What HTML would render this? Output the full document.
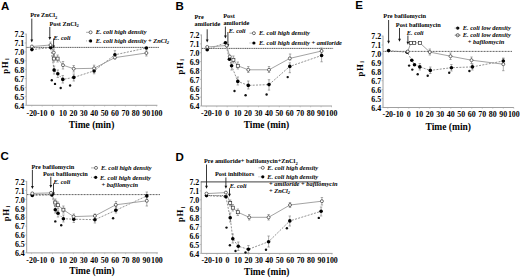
<!DOCTYPE html>
<html><head><meta charset="utf-8"><style>
html,body{margin:0;padding:0;background:#fff;width:520px;height:278px;overflow:hidden}
svg{display:block}
</style></head><body>
<svg width="520" height="278" viewBox="0 0 520 278">
<rect width="520" height="278" fill="#fff"/>
<text x="0.90" y="9.80" font-size="11.5" text-anchor="start" font-weight="bold" font-style="normal" font-family='"Liberation Sans", sans-serif' fill="#000" >A</text>
<line x1="26.20" y1="33.60" x2="26.20" y2="105.30" stroke="#a0a0a0" stroke-width="1.0" />
<line x1="24.70" y1="34.10" x2="26.20" y2="34.10" stroke="#a0a0a0" stroke-width="0.6" />
<text x="24.30" y="37.40" font-size="7.9" text-anchor="end" font-weight="bold" font-style="normal" font-family='"Liberation Serif", serif' fill="#000" >7.2</text>
<line x1="24.70" y1="43.00" x2="26.20" y2="43.00" stroke="#a0a0a0" stroke-width="0.6" />
<text x="24.30" y="46.30" font-size="7.9" text-anchor="end" font-weight="bold" font-style="normal" font-family='"Liberation Serif", serif' fill="#000" >7.1</text>
<line x1="24.70" y1="51.90" x2="26.20" y2="51.90" stroke="#a0a0a0" stroke-width="0.6" />
<text x="24.30" y="55.20" font-size="7.9" text-anchor="end" font-weight="bold" font-style="normal" font-family='"Liberation Serif", serif' fill="#000" >7.0</text>
<line x1="24.70" y1="60.80" x2="26.20" y2="60.80" stroke="#a0a0a0" stroke-width="0.6" />
<text x="24.30" y="64.10" font-size="7.9" text-anchor="end" font-weight="bold" font-style="normal" font-family='"Liberation Serif", serif' fill="#000" >6.9</text>
<line x1="24.70" y1="69.70" x2="26.20" y2="69.70" stroke="#a0a0a0" stroke-width="0.6" />
<text x="24.30" y="73.00" font-size="7.9" text-anchor="end" font-weight="bold" font-style="normal" font-family='"Liberation Serif", serif' fill="#000" >6.8</text>
<line x1="24.70" y1="78.60" x2="26.20" y2="78.60" stroke="#a0a0a0" stroke-width="0.6" />
<text x="24.30" y="81.90" font-size="7.9" text-anchor="end" font-weight="bold" font-style="normal" font-family='"Liberation Serif", serif' fill="#000" >6.7</text>
<line x1="24.70" y1="87.50" x2="26.20" y2="87.50" stroke="#a0a0a0" stroke-width="0.6" />
<text x="24.30" y="90.80" font-size="7.9" text-anchor="end" font-weight="bold" font-style="normal" font-family='"Liberation Serif", serif' fill="#000" >6.6</text>
<line x1="24.70" y1="96.40" x2="26.20" y2="96.40" stroke="#a0a0a0" stroke-width="0.6" />
<text x="24.30" y="99.70" font-size="7.9" text-anchor="end" font-weight="bold" font-style="normal" font-family='"Liberation Serif", serif' fill="#000" >6.5</text>
<line x1="24.70" y1="105.30" x2="26.20" y2="105.30" stroke="#a0a0a0" stroke-width="0.6" />
<text x="24.30" y="108.60" font-size="7.9" text-anchor="end" font-weight="bold" font-style="normal" font-family='"Liberation Serif", serif' fill="#000" >6.4</text>
<line x1="26.20" y1="105.30" x2="157.40" y2="105.30" stroke="#a0a0a0" stroke-width="1.0" />
<line x1="31.80" y1="105.30" x2="31.80" y2="106.60" stroke="#a0a0a0" stroke-width="0.5" />
<text x="31.80" y="115.70" font-size="7.9" text-anchor="middle" font-weight="bold" font-style="normal" font-family='"Liberation Serif", serif' fill="#000" >-20</text>
<line x1="42.20" y1="105.30" x2="42.20" y2="106.60" stroke="#a0a0a0" stroke-width="0.5" />
<text x="42.20" y="115.70" font-size="7.9" text-anchor="middle" font-weight="bold" font-style="normal" font-family='"Liberation Serif", serif' fill="#000" >-10</text>
<line x1="52.60" y1="105.30" x2="52.60" y2="106.60" stroke="#a0a0a0" stroke-width="0.5" />
<text x="52.60" y="115.70" font-size="7.9" text-anchor="middle" font-weight="bold" font-style="normal" font-family='"Liberation Serif", serif' fill="#000" >0</text>
<line x1="63.00" y1="105.30" x2="63.00" y2="106.60" stroke="#a0a0a0" stroke-width="0.5" />
<text x="63.00" y="115.70" font-size="7.9" text-anchor="middle" font-weight="bold" font-style="normal" font-family='"Liberation Serif", serif' fill="#000" >10</text>
<line x1="73.40" y1="105.30" x2="73.40" y2="106.60" stroke="#a0a0a0" stroke-width="0.5" />
<text x="73.40" y="115.70" font-size="7.9" text-anchor="middle" font-weight="bold" font-style="normal" font-family='"Liberation Serif", serif' fill="#000" >20</text>
<line x1="83.80" y1="105.30" x2="83.80" y2="106.60" stroke="#a0a0a0" stroke-width="0.5" />
<text x="83.80" y="115.70" font-size="7.9" text-anchor="middle" font-weight="bold" font-style="normal" font-family='"Liberation Serif", serif' fill="#000" >30</text>
<line x1="94.20" y1="105.30" x2="94.20" y2="106.60" stroke="#a0a0a0" stroke-width="0.5" />
<text x="94.20" y="115.70" font-size="7.9" text-anchor="middle" font-weight="bold" font-style="normal" font-family='"Liberation Serif", serif' fill="#000" >40</text>
<line x1="104.60" y1="105.30" x2="104.60" y2="106.60" stroke="#a0a0a0" stroke-width="0.5" />
<text x="104.60" y="115.70" font-size="7.9" text-anchor="middle" font-weight="bold" font-style="normal" font-family='"Liberation Serif", serif' fill="#000" >50</text>
<line x1="115.00" y1="105.30" x2="115.00" y2="106.60" stroke="#a0a0a0" stroke-width="0.5" />
<text x="115.00" y="115.70" font-size="7.9" text-anchor="middle" font-weight="bold" font-style="normal" font-family='"Liberation Serif", serif' fill="#000" >60</text>
<line x1="125.40" y1="105.30" x2="125.40" y2="106.60" stroke="#a0a0a0" stroke-width="0.5" />
<text x="125.40" y="115.70" font-size="7.9" text-anchor="middle" font-weight="bold" font-style="normal" font-family='"Liberation Serif", serif' fill="#000" >70</text>
<line x1="135.80" y1="105.30" x2="135.80" y2="106.60" stroke="#a0a0a0" stroke-width="0.5" />
<text x="135.80" y="115.70" font-size="7.9" text-anchor="middle" font-weight="bold" font-style="normal" font-family='"Liberation Serif", serif' fill="#000" >80</text>
<line x1="146.20" y1="105.30" x2="146.20" y2="106.60" stroke="#a0a0a0" stroke-width="0.5" />
<text x="146.20" y="115.70" font-size="7.9" text-anchor="middle" font-weight="bold" font-style="normal" font-family='"Liberation Serif", serif' fill="#000" >90</text>
<line x1="156.60" y1="105.30" x2="156.60" y2="106.60" stroke="#a0a0a0" stroke-width="0.5" />
<text x="156.60" y="115.70" font-size="7.9" text-anchor="middle" font-weight="bold" font-style="normal" font-family='"Liberation Serif", serif' fill="#000" >100</text>
<text x="91.60" y="127.80" font-size="9.5" text-anchor="middle" font-weight="bold" font-style="normal" font-family='"Liberation Serif", serif' fill="#000" >Time (min)</text>
<text transform="translate(7.80,65.80) rotate(-90)" font-size="8.8" font-weight="bold" font-family='"Liberation Serif", serif' text-anchor="middle" letter-spacing="0.5">pH<tspan font-size="6" dx="1.0" dy="1.2">i</tspan></text>
<line x1="26.50" y1="47.40" x2="158.90" y2="47.40" stroke="#333" stroke-width="0.8" stroke-dasharray="1.3,0.5" />
<text x="30.20" y="17.40" font-size="6.3" text-anchor="start" font-weight="bold" font-style="normal" font-family='"Liberation Serif", serif' fill="#000" >Pre ZnCl<tspan font-size="4.6" dy="1.3">2</tspan></text>
<text x="49.40" y="25.50" font-size="6.3" text-anchor="start" font-weight="bold" font-style="normal" font-family='"Liberation Serif", serif' fill="#000" >Post ZnCl<tspan font-size="4.6" dy="1.3">2</tspan></text>
<text x="53.60" y="40.40" font-size="6.3" text-anchor="start" font-weight="bold" font-style="italic" font-family='"Liberation Serif", serif' fill="#000" >E.  coli</text>
<line x1="31.80" y1="18.60" x2="31.80" y2="40.10" stroke="#222" stroke-width="0.9" />
<path d="M30.40,39.60 L33.20,39.60 L31.80,42.60 Z" fill="#111"/>
<line x1="49.80" y1="26.90" x2="49.80" y2="37.50" stroke="#222" stroke-width="0.9" />
<path d="M48.40,37.00 L51.20,37.00 L49.80,40.00 Z" fill="#111"/>
<line x1="53.60" y1="38.50" x2="53.60" y2="46.10" stroke="#222" stroke-width="0.9" />
<path d="M52.20,45.60 L55.00,45.60 L53.60,48.60 Z" fill="#111"/>
<polyline points="31.90,49.60 50.70,47.60 54.10,70.10 57.80,73.80 62.80,79.40 73.80,77.40 94.10,70.90 114.90,54.80 146.40,48.00" fill="none" stroke="#777" stroke-width="0.8" stroke-dasharray="2,1.3"/>
<polyline points="31.90,46.50 50.50,45.00 53.80,52.60 53.80,58.60 57.60,58.60 63.00,65.20 73.70,68.70 94.10,68.30 114.90,57.60 146.40,53.00" fill="none" stroke="#999" stroke-width="0.9"/>
<line x1="50.50" y1="42.00" x2="50.50" y2="48.00" stroke="#777" stroke-width="0.6" />
<line x1="49.30" y1="42.00" x2="51.70" y2="42.00" stroke="#777" stroke-width="0.6" />
<line x1="49.30" y1="48.00" x2="51.70" y2="48.00" stroke="#777" stroke-width="0.6" />
<line x1="53.80" y1="49.00" x2="53.80" y2="56.00" stroke="#777" stroke-width="0.6" />
<line x1="52.60" y1="49.00" x2="55.00" y2="49.00" stroke="#777" stroke-width="0.6" />
<line x1="52.60" y1="56.00" x2="55.00" y2="56.00" stroke="#777" stroke-width="0.6" />
<line x1="53.80" y1="55.00" x2="53.80" y2="62.00" stroke="#777" stroke-width="0.6" />
<line x1="52.60" y1="55.00" x2="55.00" y2="55.00" stroke="#777" stroke-width="0.6" />
<line x1="52.60" y1="62.00" x2="55.00" y2="62.00" stroke="#777" stroke-width="0.6" />
<line x1="57.60" y1="55.00" x2="57.60" y2="62.00" stroke="#777" stroke-width="0.6" />
<line x1="56.40" y1="55.00" x2="58.80" y2="55.00" stroke="#777" stroke-width="0.6" />
<line x1="56.40" y1="62.00" x2="58.80" y2="62.00" stroke="#777" stroke-width="0.6" />
<line x1="63.00" y1="61.50" x2="63.00" y2="69.00" stroke="#777" stroke-width="0.6" />
<line x1="61.80" y1="61.50" x2="64.20" y2="61.50" stroke="#777" stroke-width="0.6" />
<line x1="61.80" y1="69.00" x2="64.20" y2="69.00" stroke="#777" stroke-width="0.6" />
<line x1="73.70" y1="65.50" x2="73.70" y2="72.00" stroke="#777" stroke-width="0.6" />
<line x1="72.50" y1="65.50" x2="74.90" y2="65.50" stroke="#777" stroke-width="0.6" />
<line x1="72.50" y1="72.00" x2="74.90" y2="72.00" stroke="#777" stroke-width="0.6" />
<line x1="94.10" y1="65.20" x2="94.10" y2="73.80" stroke="#777" stroke-width="0.6" />
<line x1="92.90" y1="65.20" x2="95.30" y2="65.20" stroke="#777" stroke-width="0.6" />
<line x1="92.90" y1="73.80" x2="95.30" y2="73.80" stroke="#777" stroke-width="0.6" />
<line x1="114.90" y1="50.70" x2="114.90" y2="58.90" stroke="#777" stroke-width="0.6" />
<line x1="113.70" y1="50.70" x2="116.10" y2="50.70" stroke="#777" stroke-width="0.6" />
<line x1="113.70" y1="58.90" x2="116.10" y2="58.90" stroke="#777" stroke-width="0.6" />
<line x1="146.40" y1="50.00" x2="146.40" y2="56.00" stroke="#777" stroke-width="0.6" />
<line x1="145.20" y1="50.00" x2="147.60" y2="50.00" stroke="#777" stroke-width="0.6" />
<line x1="145.20" y1="56.00" x2="147.60" y2="56.00" stroke="#777" stroke-width="0.6" />
<line x1="54.10" y1="66.00" x2="54.10" y2="74.00" stroke="#777" stroke-width="0.6" />
<line x1="52.90" y1="66.00" x2="55.30" y2="66.00" stroke="#777" stroke-width="0.6" />
<line x1="52.90" y1="74.00" x2="55.30" y2="74.00" stroke="#777" stroke-width="0.6" />
<line x1="57.80" y1="70.00" x2="57.80" y2="77.50" stroke="#777" stroke-width="0.6" />
<line x1="56.60" y1="70.00" x2="59.00" y2="70.00" stroke="#777" stroke-width="0.6" />
<line x1="56.60" y1="77.50" x2="59.00" y2="77.50" stroke="#777" stroke-width="0.6" />
<line x1="62.80" y1="75.50" x2="62.80" y2="83.00" stroke="#777" stroke-width="0.6" />
<line x1="61.60" y1="75.50" x2="64.00" y2="75.50" stroke="#777" stroke-width="0.6" />
<line x1="61.60" y1="83.00" x2="64.00" y2="83.00" stroke="#777" stroke-width="0.6" />
<line x1="73.80" y1="74.00" x2="73.80" y2="81.00" stroke="#777" stroke-width="0.6" />
<line x1="72.60" y1="74.00" x2="75.00" y2="74.00" stroke="#777" stroke-width="0.6" />
<line x1="72.60" y1="81.00" x2="75.00" y2="81.00" stroke="#777" stroke-width="0.6" />
<circle cx="31.90" cy="49.60" r="1.8" fill="#000"/>
<circle cx="50.70" cy="47.60" r="1.8" fill="#000"/>
<circle cx="54.10" cy="70.10" r="1.8" fill="#000"/>
<circle cx="57.80" cy="73.80" r="1.8" fill="#000"/>
<circle cx="62.80" cy="79.40" r="1.8" fill="#000"/>
<circle cx="73.80" cy="77.40" r="1.8" fill="#000"/>
<circle cx="94.10" cy="70.90" r="1.8" fill="#000"/>
<circle cx="114.90" cy="54.80" r="1.8" fill="#000"/>
<circle cx="146.40" cy="48.00" r="1.8" fill="#000"/>
<circle cx="31.90" cy="46.50" r="1.5" fill="#fff" stroke="#333" stroke-width="0.7"/>
<circle cx="50.50" cy="45.00" r="1.5" fill="#fff" stroke="#333" stroke-width="0.7"/>
<circle cx="53.80" cy="52.60" r="1.5" fill="#fff" stroke="#333" stroke-width="0.7"/>
<rect x="52.30" y="57.10" width="3.0" height="3.0" fill="#fff" stroke="#333" stroke-width="0.7"/>
<rect x="56.10" y="57.10" width="3.0" height="3.0" fill="#fff" stroke="#333" stroke-width="0.7"/>
<circle cx="63.00" cy="65.20" r="1.5" fill="#fff" stroke="#333" stroke-width="0.7"/>
<circle cx="73.70" cy="68.70" r="1.5" fill="#fff" stroke="#333" stroke-width="0.7"/>
<circle cx="94.10" cy="68.30" r="1.5" fill="#fff" stroke="#333" stroke-width="0.7"/>
<circle cx="114.90" cy="57.60" r="1.5" fill="#fff" stroke="#333" stroke-width="0.7"/>
<circle cx="146.40" cy="53.00" r="1.5" fill="#fff" stroke="#333" stroke-width="0.7"/>
<circle cx="51.80" cy="80.30" r="1.2" fill="#111"/>
<circle cx="55.00" cy="83.90" r="1.2" fill="#111"/>
<circle cx="60.70" cy="88.00" r="1.2" fill="#111"/>
<circle cx="70.10" cy="85.50" r="1.2" fill="#111"/>
<line x1="86.00" y1="32.30" x2="91.50" y2="32.30" stroke="#777" stroke-width="0.6" />
<circle cx="90.60" cy="32.30" r="1.5" fill="#fff" stroke="#333" stroke-width="0.7"/>
<text x="95.70" y="34.40" font-size="6.4" text-anchor="start" font-weight="bold" font-style="italic" font-family='"Liberation Serif", serif' fill="#000" >E.  coli high density</text>
<line x1="86.00" y1="40.90" x2="91.50" y2="40.90" stroke="#777" stroke-width="0.6" stroke-dasharray="1,1" />
<circle cx="90.60" cy="40.90" r="1.6" fill="#000"/>
<text x="95.70" y="43.00" font-size="6.4" text-anchor="start" font-weight="bold" font-style="italic" font-family='"Liberation Serif", serif' fill="#000" >E.  coli high density + ZnCl<tspan font-size="4.6" dy="1.3">2</tspan></text>
<text x="175.40" y="9.90" font-size="11.5" text-anchor="start" font-weight="bold" font-style="normal" font-family='"Liberation Sans", sans-serif' fill="#000" >B</text>
<line x1="201.40" y1="34.50" x2="201.40" y2="106.00" stroke="#a0a0a0" stroke-width="1.0" />
<line x1="199.90" y1="35.00" x2="201.40" y2="35.00" stroke="#a0a0a0" stroke-width="0.6" />
<text x="199.50" y="38.30" font-size="7.9" text-anchor="end" font-weight="bold" font-style="normal" font-family='"Liberation Serif", serif' fill="#000" >7.2</text>
<line x1="199.90" y1="43.88" x2="201.40" y2="43.88" stroke="#a0a0a0" stroke-width="0.6" />
<text x="199.50" y="47.17" font-size="7.9" text-anchor="end" font-weight="bold" font-style="normal" font-family='"Liberation Serif", serif' fill="#000" >7.1</text>
<line x1="199.90" y1="52.75" x2="201.40" y2="52.75" stroke="#a0a0a0" stroke-width="0.6" />
<text x="199.50" y="56.05" font-size="7.9" text-anchor="end" font-weight="bold" font-style="normal" font-family='"Liberation Serif", serif' fill="#000" >7.0</text>
<line x1="199.90" y1="61.62" x2="201.40" y2="61.62" stroke="#a0a0a0" stroke-width="0.6" />
<text x="199.50" y="64.92" font-size="7.9" text-anchor="end" font-weight="bold" font-style="normal" font-family='"Liberation Serif", serif' fill="#000" >6.9</text>
<line x1="199.90" y1="70.50" x2="201.40" y2="70.50" stroke="#a0a0a0" stroke-width="0.6" />
<text x="199.50" y="73.80" font-size="7.9" text-anchor="end" font-weight="bold" font-style="normal" font-family='"Liberation Serif", serif' fill="#000" >6.8</text>
<line x1="199.90" y1="79.38" x2="201.40" y2="79.38" stroke="#a0a0a0" stroke-width="0.6" />
<text x="199.50" y="82.67" font-size="7.9" text-anchor="end" font-weight="bold" font-style="normal" font-family='"Liberation Serif", serif' fill="#000" >6.7</text>
<line x1="199.90" y1="88.25" x2="201.40" y2="88.25" stroke="#a0a0a0" stroke-width="0.6" />
<text x="199.50" y="91.55" font-size="7.9" text-anchor="end" font-weight="bold" font-style="normal" font-family='"Liberation Serif", serif' fill="#000" >6.6</text>
<line x1="199.90" y1="97.12" x2="201.40" y2="97.12" stroke="#a0a0a0" stroke-width="0.6" />
<text x="199.50" y="100.42" font-size="7.9" text-anchor="end" font-weight="bold" font-style="normal" font-family='"Liberation Serif", serif' fill="#000" >6.5</text>
<line x1="199.90" y1="106.00" x2="201.40" y2="106.00" stroke="#a0a0a0" stroke-width="0.6" />
<text x="199.50" y="109.30" font-size="7.9" text-anchor="end" font-weight="bold" font-style="normal" font-family='"Liberation Serif", serif' fill="#000" >6.4</text>
<line x1="201.40" y1="106.00" x2="332.00" y2="106.00" stroke="#a0a0a0" stroke-width="1.0" />
<line x1="206.34" y1="106.00" x2="206.34" y2="107.30" stroke="#a0a0a0" stroke-width="0.5" />
<text x="206.34" y="116.10" font-size="7.9" text-anchor="middle" font-weight="bold" font-style="normal" font-family='"Liberation Serif", serif' fill="#000" >-20</text>
<line x1="216.77" y1="106.00" x2="216.77" y2="107.30" stroke="#a0a0a0" stroke-width="0.5" />
<text x="216.77" y="116.10" font-size="7.9" text-anchor="middle" font-weight="bold" font-style="normal" font-family='"Liberation Serif", serif' fill="#000" >-10</text>
<line x1="227.20" y1="106.00" x2="227.20" y2="107.30" stroke="#a0a0a0" stroke-width="0.5" />
<text x="227.20" y="116.10" font-size="7.9" text-anchor="middle" font-weight="bold" font-style="normal" font-family='"Liberation Serif", serif' fill="#000" >0</text>
<line x1="237.63" y1="106.00" x2="237.63" y2="107.30" stroke="#a0a0a0" stroke-width="0.5" />
<text x="237.63" y="116.10" font-size="7.9" text-anchor="middle" font-weight="bold" font-style="normal" font-family='"Liberation Serif", serif' fill="#000" >10</text>
<line x1="248.06" y1="106.00" x2="248.06" y2="107.30" stroke="#a0a0a0" stroke-width="0.5" />
<text x="248.06" y="116.10" font-size="7.9" text-anchor="middle" font-weight="bold" font-style="normal" font-family='"Liberation Serif", serif' fill="#000" >20</text>
<line x1="258.49" y1="106.00" x2="258.49" y2="107.30" stroke="#a0a0a0" stroke-width="0.5" />
<text x="258.49" y="116.10" font-size="7.9" text-anchor="middle" font-weight="bold" font-style="normal" font-family='"Liberation Serif", serif' fill="#000" >30</text>
<line x1="268.92" y1="106.00" x2="268.92" y2="107.30" stroke="#a0a0a0" stroke-width="0.5" />
<text x="268.92" y="116.10" font-size="7.9" text-anchor="middle" font-weight="bold" font-style="normal" font-family='"Liberation Serif", serif' fill="#000" >40</text>
<line x1="279.35" y1="106.00" x2="279.35" y2="107.30" stroke="#a0a0a0" stroke-width="0.5" />
<text x="279.35" y="116.10" font-size="7.9" text-anchor="middle" font-weight="bold" font-style="normal" font-family='"Liberation Serif", serif' fill="#000" >50</text>
<line x1="289.78" y1="106.00" x2="289.78" y2="107.30" stroke="#a0a0a0" stroke-width="0.5" />
<text x="289.78" y="116.10" font-size="7.9" text-anchor="middle" font-weight="bold" font-style="normal" font-family='"Liberation Serif", serif' fill="#000" >60</text>
<line x1="300.21" y1="106.00" x2="300.21" y2="107.30" stroke="#a0a0a0" stroke-width="0.5" />
<text x="300.21" y="116.10" font-size="7.9" text-anchor="middle" font-weight="bold" font-style="normal" font-family='"Liberation Serif", serif' fill="#000" >70</text>
<line x1="310.64" y1="106.00" x2="310.64" y2="107.30" stroke="#a0a0a0" stroke-width="0.5" />
<text x="310.64" y="116.10" font-size="7.9" text-anchor="middle" font-weight="bold" font-style="normal" font-family='"Liberation Serif", serif' fill="#000" >80</text>
<line x1="321.07" y1="106.00" x2="321.07" y2="107.30" stroke="#a0a0a0" stroke-width="0.5" />
<text x="321.07" y="116.10" font-size="7.9" text-anchor="middle" font-weight="bold" font-style="normal" font-family='"Liberation Serif", serif' fill="#000" >90</text>
<line x1="331.50" y1="106.00" x2="331.50" y2="107.30" stroke="#a0a0a0" stroke-width="0.5" />
<text x="331.50" y="116.10" font-size="7.9" text-anchor="middle" font-weight="bold" font-style="normal" font-family='"Liberation Serif", serif' fill="#000" >100</text>
<text x="266.40" y="128.00" font-size="9.5" text-anchor="middle" font-weight="bold" font-style="normal" font-family='"Liberation Serif", serif' fill="#000" >Time (min)</text>
<text transform="translate(183.00,66.50) rotate(-90)" font-size="8.8" font-weight="bold" font-family='"Liberation Serif", serif' text-anchor="middle" letter-spacing="0.5">pH<tspan font-size="6" dx="1.0" dy="1.2">i</tspan></text>
<line x1="201.80" y1="48.40" x2="333.30" y2="48.40" stroke="#333" stroke-width="0.8" stroke-dasharray="1.3,0.5" />
<text x="194.50" y="18.50" font-size="6.3" text-anchor="start" font-weight="bold" font-style="normal" font-family='"Liberation Serif", serif' fill="#000" >Pre</text>
<text x="194.50" y="25.80" font-size="6.3" text-anchor="start" font-weight="bold" font-style="normal" font-family='"Liberation Serif", serif' fill="#000" >amiloride</text>
<text x="223.20" y="17.60" font-size="6.3" text-anchor="start" font-weight="bold" font-style="normal" font-family='"Liberation Serif", serif' fill="#000" >Post</text>
<text x="223.40" y="25.40" font-size="6.3" text-anchor="start" font-weight="bold" font-style="normal" font-family='"Liberation Serif", serif' fill="#000" >amiloride</text>
<text x="228.80" y="33.00" font-size="6.3" text-anchor="start" font-weight="bold" font-style="italic" font-family='"Liberation Serif", serif' fill="#000" >E.  coli</text>
<line x1="207.20" y1="29.30" x2="207.20" y2="40.10" stroke="#222" stroke-width="0.9" />
<path d="M205.80,39.60 L208.60,39.60 L207.20,42.60 Z" fill="#111"/>
<line x1="225.40" y1="26.60" x2="225.40" y2="36.10" stroke="#222" stroke-width="0.9" />
<path d="M224.00,35.60 L226.80,35.60 L225.40,38.60 Z" fill="#111"/>
<line x1="227.90" y1="32.00" x2="227.90" y2="44.70" stroke="#222" stroke-width="0.9" />
<path d="M226.50,44.20 L229.30,44.20 L227.90,47.20 Z" fill="#111"/>
<polyline points="207.20,49.80 225.40,42.70 229.40,59.20 231.60,65.80 237.80,81.40 248.30,85.40 269.00,84.60 289.80,66.40 321.60,55.50" fill="none" stroke="#777" stroke-width="0.8" stroke-dasharray="2,1.3"/>
<polyline points="207.20,47.00 226.60,45.50 229.80,56.50 233.40,59.80 237.80,65.80 248.30,69.80 269.00,69.80 289.80,58.40 321.60,51.00" fill="none" stroke="#999" stroke-width="0.9"/>
<line x1="233.40" y1="56.00" x2="233.40" y2="63.00" stroke="#777" stroke-width="0.6" />
<line x1="232.20" y1="56.00" x2="234.60" y2="56.00" stroke="#777" stroke-width="0.6" />
<line x1="232.20" y1="63.00" x2="234.60" y2="63.00" stroke="#777" stroke-width="0.6" />
<line x1="237.80" y1="62.00" x2="237.80" y2="69.00" stroke="#777" stroke-width="0.6" />
<line x1="236.60" y1="62.00" x2="239.00" y2="62.00" stroke="#777" stroke-width="0.6" />
<line x1="236.60" y1="69.00" x2="239.00" y2="69.00" stroke="#777" stroke-width="0.6" />
<line x1="248.30" y1="66.50" x2="248.30" y2="72.50" stroke="#777" stroke-width="0.6" />
<line x1="247.10" y1="66.50" x2="249.50" y2="66.50" stroke="#777" stroke-width="0.6" />
<line x1="247.10" y1="72.50" x2="249.50" y2="72.50" stroke="#777" stroke-width="0.6" />
<line x1="269.00" y1="66.50" x2="269.00" y2="72.50" stroke="#777" stroke-width="0.6" />
<line x1="267.80" y1="66.50" x2="270.20" y2="66.50" stroke="#777" stroke-width="0.6" />
<line x1="267.80" y1="72.50" x2="270.20" y2="72.50" stroke="#777" stroke-width="0.6" />
<line x1="290.10" y1="54.00" x2="290.10" y2="60.00" stroke="#777" stroke-width="0.6" />
<line x1="288.90" y1="54.00" x2="291.30" y2="54.00" stroke="#777" stroke-width="0.6" />
<line x1="288.90" y1="60.00" x2="291.30" y2="60.00" stroke="#777" stroke-width="0.6" />
<line x1="321.30" y1="48.00" x2="321.30" y2="54.00" stroke="#777" stroke-width="0.6" />
<line x1="320.10" y1="48.00" x2="322.50" y2="48.00" stroke="#777" stroke-width="0.6" />
<line x1="320.10" y1="54.00" x2="322.50" y2="54.00" stroke="#777" stroke-width="0.6" />
<line x1="231.60" y1="62.00" x2="231.60" y2="70.00" stroke="#777" stroke-width="0.6" />
<line x1="230.40" y1="62.00" x2="232.80" y2="62.00" stroke="#777" stroke-width="0.6" />
<line x1="230.40" y1="70.00" x2="232.80" y2="70.00" stroke="#777" stroke-width="0.6" />
<line x1="237.80" y1="77.00" x2="237.80" y2="85.00" stroke="#777" stroke-width="0.6" />
<line x1="236.60" y1="77.00" x2="239.00" y2="77.00" stroke="#777" stroke-width="0.6" />
<line x1="236.60" y1="85.00" x2="239.00" y2="85.00" stroke="#777" stroke-width="0.6" />
<line x1="248.30" y1="81.00" x2="248.30" y2="89.00" stroke="#777" stroke-width="0.6" />
<line x1="247.10" y1="81.00" x2="249.50" y2="81.00" stroke="#777" stroke-width="0.6" />
<line x1="247.10" y1="89.00" x2="249.50" y2="89.00" stroke="#777" stroke-width="0.6" />
<line x1="269.00" y1="79.70" x2="269.00" y2="90.10" stroke="#777" stroke-width="0.6" />
<line x1="267.80" y1="79.70" x2="270.20" y2="79.70" stroke="#777" stroke-width="0.6" />
<line x1="267.80" y1="90.10" x2="270.20" y2="90.10" stroke="#777" stroke-width="0.6" />
<line x1="289.80" y1="62.80" x2="289.80" y2="72.70" stroke="#777" stroke-width="0.6" />
<line x1="288.60" y1="62.80" x2="291.00" y2="62.80" stroke="#777" stroke-width="0.6" />
<line x1="288.60" y1="72.70" x2="291.00" y2="72.70" stroke="#777" stroke-width="0.6" />
<line x1="321.60" y1="50.00" x2="321.60" y2="61.80" stroke="#777" stroke-width="0.6" />
<line x1="320.40" y1="50.00" x2="322.80" y2="50.00" stroke="#777" stroke-width="0.6" />
<line x1="320.40" y1="61.80" x2="322.80" y2="61.80" stroke="#777" stroke-width="0.6" />
<circle cx="207.20" cy="49.80" r="1.8" fill="#000"/>
<circle cx="225.40" cy="42.70" r="1.8" fill="#000"/>
<circle cx="229.40" cy="59.20" r="1.8" fill="#000"/>
<circle cx="231.60" cy="65.80" r="1.8" fill="#000"/>
<circle cx="237.80" cy="81.40" r="1.8" fill="#000"/>
<circle cx="248.30" cy="85.40" r="1.8" fill="#000"/>
<circle cx="269.00" cy="84.60" r="1.8" fill="#000"/>
<circle cx="289.80" cy="66.40" r="1.8" fill="#000"/>
<circle cx="321.60" cy="55.50" r="1.8" fill="#000"/>
<circle cx="207.20" cy="47.00" r="1.5" fill="#fff" stroke="#333" stroke-width="0.7"/>
<circle cx="226.60" cy="45.50" r="1.5" fill="#fff" stroke="#333" stroke-width="0.7"/>
<circle cx="229.80" cy="56.50" r="1.5" fill="#fff" stroke="#333" stroke-width="0.7"/>
<rect x="231.90" y="58.30" width="3.0" height="3.0" fill="#fff" stroke="#333" stroke-width="0.7"/>
<rect x="236.30" y="64.30" width="3.0" height="3.0" fill="#fff" stroke="#333" stroke-width="0.7"/>
<circle cx="248.30" cy="69.80" r="1.5" fill="#fff" stroke="#333" stroke-width="0.7"/>
<circle cx="269.00" cy="69.80" r="1.5" fill="#fff" stroke="#333" stroke-width="0.7"/>
<circle cx="289.80" cy="58.40" r="1.5" fill="#fff" stroke="#333" stroke-width="0.7"/>
<circle cx="321.60" cy="51.00" r="1.5" fill="#fff" stroke="#333" stroke-width="0.7"/>
<circle cx="234.50" cy="91.00" r="1.2" fill="#111"/>
<circle cx="245.60" cy="95.20" r="1.2" fill="#111"/>
<circle cx="266.60" cy="94.50" r="1.2" fill="#111"/>
<circle cx="287.70" cy="77.10" r="1.2" fill="#111"/>
<line x1="249.50" y1="33.20" x2="254.50" y2="33.20" stroke="#777" stroke-width="0.6" />
<circle cx="253.90" cy="33.20" r="1.5" fill="#fff" stroke="#333" stroke-width="0.7"/>
<text x="259.10" y="35.30" font-size="6.4" text-anchor="start" font-weight="bold" font-style="italic" font-family='"Liberation Serif", serif' fill="#000" >E.  coli high density</text>
<line x1="249.50" y1="43.00" x2="254.50" y2="43.00" stroke="#777" stroke-width="0.6" stroke-dasharray="1,1" />
<circle cx="253.90" cy="43.00" r="1.6" fill="#000"/>
<text x="259.10" y="45.10" font-size="6.4" text-anchor="start" font-weight="bold" font-style="italic" font-family='"Liberation Serif", serif' fill="#000" >E.  coli high density + amiloride</text>
<text x="355.20" y="8.90" font-size="11.5" text-anchor="start" font-weight="bold" font-style="normal" font-family='"Liberation Sans", sans-serif' fill="#000" >E</text>
<line x1="383.00" y1="35.60" x2="383.00" y2="107.50" stroke="#a0a0a0" stroke-width="1.0" />
<line x1="381.50" y1="36.10" x2="383.00" y2="36.10" stroke="#a0a0a0" stroke-width="0.6" />
<text x="381.10" y="39.40" font-size="7.9" text-anchor="end" font-weight="bold" font-style="normal" font-family='"Liberation Serif", serif' fill="#000" >7.2</text>
<line x1="381.50" y1="45.03" x2="383.00" y2="45.03" stroke="#a0a0a0" stroke-width="0.6" />
<text x="381.10" y="48.33" font-size="7.9" text-anchor="end" font-weight="bold" font-style="normal" font-family='"Liberation Serif", serif' fill="#000" >7.1</text>
<line x1="381.50" y1="53.95" x2="383.00" y2="53.95" stroke="#a0a0a0" stroke-width="0.6" />
<text x="381.10" y="57.25" font-size="7.9" text-anchor="end" font-weight="bold" font-style="normal" font-family='"Liberation Serif", serif' fill="#000" >7.0</text>
<line x1="381.50" y1="62.88" x2="383.00" y2="62.88" stroke="#a0a0a0" stroke-width="0.6" />
<text x="381.10" y="66.17" font-size="7.9" text-anchor="end" font-weight="bold" font-style="normal" font-family='"Liberation Serif", serif' fill="#000" >6.9</text>
<line x1="381.50" y1="71.80" x2="383.00" y2="71.80" stroke="#a0a0a0" stroke-width="0.6" />
<text x="381.10" y="75.10" font-size="7.9" text-anchor="end" font-weight="bold" font-style="normal" font-family='"Liberation Serif", serif' fill="#000" >6.8</text>
<line x1="381.50" y1="80.72" x2="383.00" y2="80.72" stroke="#a0a0a0" stroke-width="0.6" />
<text x="381.10" y="84.02" font-size="7.9" text-anchor="end" font-weight="bold" font-style="normal" font-family='"Liberation Serif", serif' fill="#000" >6.7</text>
<line x1="381.50" y1="89.65" x2="383.00" y2="89.65" stroke="#a0a0a0" stroke-width="0.6" />
<text x="381.10" y="92.95" font-size="7.9" text-anchor="end" font-weight="bold" font-style="normal" font-family='"Liberation Serif", serif' fill="#000" >6.6</text>
<line x1="381.50" y1="98.58" x2="383.00" y2="98.58" stroke="#a0a0a0" stroke-width="0.6" />
<text x="381.10" y="101.88" font-size="7.9" text-anchor="end" font-weight="bold" font-style="normal" font-family='"Liberation Serif", serif' fill="#000" >6.5</text>
<line x1="381.50" y1="107.50" x2="383.00" y2="107.50" stroke="#a0a0a0" stroke-width="0.6" />
<text x="381.10" y="110.80" font-size="7.9" text-anchor="end" font-weight="bold" font-style="normal" font-family='"Liberation Serif", serif' fill="#000" >6.4</text>
<line x1="383.00" y1="107.50" x2="513.90" y2="107.50" stroke="#a0a0a0" stroke-width="1.0" />
<line x1="387.80" y1="107.50" x2="387.80" y2="108.80" stroke="#a0a0a0" stroke-width="0.5" />
<text x="387.80" y="116.90" font-size="7.9" text-anchor="middle" font-weight="bold" font-style="normal" font-family='"Liberation Serif", serif' fill="#000" >-20</text>
<line x1="398.30" y1="107.50" x2="398.30" y2="108.80" stroke="#a0a0a0" stroke-width="0.5" />
<text x="398.30" y="116.90" font-size="7.9" text-anchor="middle" font-weight="bold" font-style="normal" font-family='"Liberation Serif", serif' fill="#000" >-10</text>
<line x1="408.80" y1="107.50" x2="408.80" y2="108.80" stroke="#a0a0a0" stroke-width="0.5" />
<text x="408.80" y="116.90" font-size="7.9" text-anchor="middle" font-weight="bold" font-style="normal" font-family='"Liberation Serif", serif' fill="#000" >0</text>
<line x1="419.30" y1="107.50" x2="419.30" y2="108.80" stroke="#a0a0a0" stroke-width="0.5" />
<text x="419.30" y="116.90" font-size="7.9" text-anchor="middle" font-weight="bold" font-style="normal" font-family='"Liberation Serif", serif' fill="#000" >10</text>
<line x1="429.80" y1="107.50" x2="429.80" y2="108.80" stroke="#a0a0a0" stroke-width="0.5" />
<text x="429.80" y="116.90" font-size="7.9" text-anchor="middle" font-weight="bold" font-style="normal" font-family='"Liberation Serif", serif' fill="#000" >20</text>
<line x1="440.30" y1="107.50" x2="440.30" y2="108.80" stroke="#a0a0a0" stroke-width="0.5" />
<text x="440.30" y="116.90" font-size="7.9" text-anchor="middle" font-weight="bold" font-style="normal" font-family='"Liberation Serif", serif' fill="#000" >30</text>
<line x1="450.80" y1="107.50" x2="450.80" y2="108.80" stroke="#a0a0a0" stroke-width="0.5" />
<text x="450.80" y="116.90" font-size="7.9" text-anchor="middle" font-weight="bold" font-style="normal" font-family='"Liberation Serif", serif' fill="#000" >40</text>
<line x1="461.30" y1="107.50" x2="461.30" y2="108.80" stroke="#a0a0a0" stroke-width="0.5" />
<text x="461.30" y="116.90" font-size="7.9" text-anchor="middle" font-weight="bold" font-style="normal" font-family='"Liberation Serif", serif' fill="#000" >50</text>
<line x1="471.80" y1="107.50" x2="471.80" y2="108.80" stroke="#a0a0a0" stroke-width="0.5" />
<text x="471.80" y="116.90" font-size="7.9" text-anchor="middle" font-weight="bold" font-style="normal" font-family='"Liberation Serif", serif' fill="#000" >60</text>
<line x1="482.30" y1="107.50" x2="482.30" y2="108.80" stroke="#a0a0a0" stroke-width="0.5" />
<text x="482.30" y="116.90" font-size="7.9" text-anchor="middle" font-weight="bold" font-style="normal" font-family='"Liberation Serif", serif' fill="#000" >70</text>
<line x1="492.80" y1="107.50" x2="492.80" y2="108.80" stroke="#a0a0a0" stroke-width="0.5" />
<text x="492.80" y="116.90" font-size="7.9" text-anchor="middle" font-weight="bold" font-style="normal" font-family='"Liberation Serif", serif' fill="#000" >80</text>
<line x1="503.30" y1="107.50" x2="503.30" y2="108.80" stroke="#a0a0a0" stroke-width="0.5" />
<text x="503.30" y="116.90" font-size="7.9" text-anchor="middle" font-weight="bold" font-style="normal" font-family='"Liberation Serif", serif' fill="#000" >90</text>
<line x1="513.80" y1="107.50" x2="513.80" y2="108.80" stroke="#a0a0a0" stroke-width="0.5" />
<text x="513.80" y="116.90" font-size="7.9" text-anchor="middle" font-weight="bold" font-style="normal" font-family='"Liberation Serif", serif' fill="#000" >100</text>
<text x="448.30" y="129.60" font-size="9.5" text-anchor="middle" font-weight="bold" font-style="normal" font-family='"Liberation Serif", serif' fill="#000" >Time (min)</text>
<text transform="translate(362.50,68.50) rotate(-90)" font-size="8.8" font-weight="bold" font-family='"Liberation Serif", serif' text-anchor="middle" letter-spacing="0.5">pH<tspan font-size="6" dx="1.0" dy="1.2">i</tspan></text>
<line x1="383.50" y1="51.40" x2="512.00" y2="51.40" stroke="#222" stroke-width="0.8" stroke-dasharray="0.9,0.6" />
<text x="383.30" y="18.40" font-size="6.3" text-anchor="start" font-weight="bold" font-style="normal" font-family='"Liberation Serif", serif' fill="#000" >Pre bafilomycin</text>
<text x="395.80" y="26.50" font-size="6.3" text-anchor="start" font-weight="bold" font-style="normal" font-family='"Liberation Serif", serif' fill="#000" >Post bafilomycin</text>
<text x="406.80" y="34.80" font-size="6.3" text-anchor="start" font-weight="bold" font-style="italic" font-family='"Liberation Serif", serif' fill="#000" >E.  coli</text>
<line x1="388.60" y1="20.00" x2="388.60" y2="41.30" stroke="#222" stroke-width="0.9" />
<path d="M387.20,40.80 L390.00,40.80 L388.60,43.80 Z" fill="#111"/>
<line x1="399.50" y1="28.00" x2="399.50" y2="39.30" stroke="#222" stroke-width="0.9" />
<path d="M398.10,38.80 L400.90,38.80 L399.50,41.80 Z" fill="#111"/>
<line x1="407.90" y1="35.50" x2="407.90" y2="42.30" stroke="#222" stroke-width="0.9" />
<path d="M406.50,41.80 L409.30,41.80 L407.90,44.80 Z" fill="#111"/>
<polyline points="388.60,50.60 407.20,52.30 411.80,60.20 414.50,64.80 419.80,66.90 430.30,70.40 451.40,67.70 472.40,66.90 503.30,61.00" fill="none" stroke="#777" stroke-width="0.8" stroke-dasharray="2,1.3"/>
<polyline points="407.70,51.50 410.90,42.90 414.20,42.90 419.90,42.90 429.80,52.10 450.50,56.20 471.50,60.20 503.30,64.20" fill="none" stroke="#999" stroke-width="0.9"/>
<line x1="429.80" y1="49.00" x2="429.80" y2="55.00" stroke="#777" stroke-width="0.6" />
<line x1="428.60" y1="49.00" x2="431.00" y2="49.00" stroke="#777" stroke-width="0.6" />
<line x1="428.60" y1="55.00" x2="431.00" y2="55.00" stroke="#777" stroke-width="0.6" />
<line x1="450.50" y1="53.00" x2="450.50" y2="59.50" stroke="#777" stroke-width="0.6" />
<line x1="449.30" y1="53.00" x2="451.70" y2="53.00" stroke="#777" stroke-width="0.6" />
<line x1="449.30" y1="59.50" x2="451.70" y2="59.50" stroke="#777" stroke-width="0.6" />
<line x1="471.50" y1="57.00" x2="471.50" y2="63.50" stroke="#777" stroke-width="0.6" />
<line x1="470.30" y1="57.00" x2="472.70" y2="57.00" stroke="#777" stroke-width="0.6" />
<line x1="470.30" y1="63.50" x2="472.70" y2="63.50" stroke="#777" stroke-width="0.6" />
<line x1="503.30" y1="58.50" x2="503.30" y2="70.70" stroke="#777" stroke-width="0.6" />
<line x1="502.10" y1="58.50" x2="504.50" y2="58.50" stroke="#777" stroke-width="0.6" />
<line x1="502.10" y1="70.70" x2="504.50" y2="70.70" stroke="#777" stroke-width="0.6" />
<line x1="419.80" y1="63.50" x2="419.80" y2="70.00" stroke="#777" stroke-width="0.6" />
<line x1="418.60" y1="63.50" x2="421.00" y2="63.50" stroke="#777" stroke-width="0.6" />
<line x1="418.60" y1="70.00" x2="421.00" y2="70.00" stroke="#777" stroke-width="0.6" />
<line x1="430.30" y1="67.00" x2="430.30" y2="73.50" stroke="#777" stroke-width="0.6" />
<line x1="429.10" y1="67.00" x2="431.50" y2="67.00" stroke="#777" stroke-width="0.6" />
<line x1="429.10" y1="73.50" x2="431.50" y2="73.50" stroke="#777" stroke-width="0.6" />
<line x1="451.40" y1="64.50" x2="451.40" y2="71.00" stroke="#777" stroke-width="0.6" />
<line x1="450.20" y1="64.50" x2="452.60" y2="64.50" stroke="#777" stroke-width="0.6" />
<line x1="450.20" y1="71.00" x2="452.60" y2="71.00" stroke="#777" stroke-width="0.6" />
<line x1="472.40" y1="64.00" x2="472.40" y2="70.00" stroke="#777" stroke-width="0.6" />
<line x1="471.20" y1="64.00" x2="473.60" y2="64.00" stroke="#777" stroke-width="0.6" />
<line x1="471.20" y1="70.00" x2="473.60" y2="70.00" stroke="#777" stroke-width="0.6" />
<line x1="503.30" y1="58.00" x2="503.30" y2="64.00" stroke="#777" stroke-width="0.6" />
<line x1="502.10" y1="58.00" x2="504.50" y2="58.00" stroke="#777" stroke-width="0.6" />
<line x1="502.10" y1="64.00" x2="504.50" y2="64.00" stroke="#777" stroke-width="0.6" />
<circle cx="388.60" cy="50.60" r="1.8" fill="#000"/>
<circle cx="407.20" cy="52.30" r="1.8" fill="#000"/>
<circle cx="411.80" cy="60.20" r="1.8" fill="#000"/>
<circle cx="414.50" cy="64.80" r="1.8" fill="#000"/>
<circle cx="419.80" cy="66.90" r="1.8" fill="#000"/>
<circle cx="430.30" cy="70.40" r="1.8" fill="#000"/>
<circle cx="451.40" cy="67.70" r="1.8" fill="#000"/>
<circle cx="472.40" cy="66.90" r="1.8" fill="#000"/>
<circle cx="503.30" cy="61.00" r="1.8" fill="#000"/>
<circle cx="407.70" cy="51.50" r="1.5" fill="#fff" stroke="#333" stroke-width="0.7"/>
<rect x="409.40" y="41.40" width="3.0" height="3.0" fill="#fff" stroke="#333" stroke-width="0.7"/>
<rect x="412.70" y="41.40" width="3.0" height="3.0" fill="#fff" stroke="#333" stroke-width="0.7"/>
<rect x="418.40" y="41.40" width="3.0" height="3.0" fill="#fff" stroke="#333" stroke-width="0.7"/>
<circle cx="429.80" cy="52.10" r="1.5" fill="#fff" stroke="#333" stroke-width="0.7"/>
<circle cx="450.50" cy="56.20" r="1.5" fill="#fff" stroke="#333" stroke-width="0.7"/>
<circle cx="471.50" cy="60.20" r="1.5" fill="#fff" stroke="#333" stroke-width="0.7"/>
<circle cx="503.30" cy="64.20" r="1.5" fill="#fff" stroke="#333" stroke-width="0.7"/>
<circle cx="409.10" cy="65.60" r="1.2" fill="#111"/>
<circle cx="412.30" cy="69.60" r="1.2" fill="#111"/>
<circle cx="417.70" cy="74.20" r="1.2" fill="#111"/>
<circle cx="427.70" cy="75.80" r="1.2" fill="#111"/>
<circle cx="449.20" cy="72.80" r="1.2" fill="#111"/>
<circle cx="469.40" cy="71.00" r="1.2" fill="#111"/>
<circle cx="457.70" cy="28.10" r="1.6" fill="#000"/>
<line x1="454.70" y1="28.10" x2="460.70" y2="28.10" stroke="#555" stroke-width="0.6" stroke-dasharray="1,1" />
<text x="462.80" y="30.20" font-size="6.4" text-anchor="start" font-weight="bold" font-style="italic" font-family='"Liberation Serif", serif' fill="#000" >E.  coli low density</text>
<circle cx="457.70" cy="35.20" r="1.6" fill="#fff" stroke="#333" stroke-width="0.7"/>
<line x1="454.70" y1="35.20" x2="460.70" y2="35.20" stroke="#555" stroke-width="0.6" />
<text x="462.80" y="37.30" font-size="6.4" text-anchor="start" font-weight="bold" font-style="italic" font-family='"Liberation Serif", serif' fill="#000" >E.  coli low density</text>
<text x="467.80" y="44.40" font-size="6.4" text-anchor="start" font-weight="bold" font-style="italic" font-family='"Liberation Serif", serif' fill="#000" >+ bafilomycin</text>
<text x="0.40" y="160.30" font-size="11.5" text-anchor="start" font-weight="bold" font-style="normal" font-family='"Liberation Sans", sans-serif' fill="#000" >C</text>
<line x1="26.70" y1="180.90" x2="26.70" y2="252.90" stroke="#a0a0a0" stroke-width="1.0" />
<line x1="25.20" y1="181.40" x2="26.70" y2="181.40" stroke="#a0a0a0" stroke-width="0.6" />
<text x="24.80" y="184.70" font-size="7.9" text-anchor="end" font-weight="bold" font-style="normal" font-family='"Liberation Serif", serif' fill="#000" >7.2</text>
<line x1="25.20" y1="190.34" x2="26.70" y2="190.34" stroke="#a0a0a0" stroke-width="0.6" />
<text x="24.80" y="193.64" font-size="7.9" text-anchor="end" font-weight="bold" font-style="normal" font-family='"Liberation Serif", serif' fill="#000" >7.1</text>
<line x1="25.20" y1="199.28" x2="26.70" y2="199.28" stroke="#a0a0a0" stroke-width="0.6" />
<text x="24.80" y="202.58" font-size="7.9" text-anchor="end" font-weight="bold" font-style="normal" font-family='"Liberation Serif", serif' fill="#000" >7.0</text>
<line x1="25.20" y1="208.21" x2="26.70" y2="208.21" stroke="#a0a0a0" stroke-width="0.6" />
<text x="24.80" y="211.51" font-size="7.9" text-anchor="end" font-weight="bold" font-style="normal" font-family='"Liberation Serif", serif' fill="#000" >6.9</text>
<line x1="25.20" y1="217.15" x2="26.70" y2="217.15" stroke="#a0a0a0" stroke-width="0.6" />
<text x="24.80" y="220.45" font-size="7.9" text-anchor="end" font-weight="bold" font-style="normal" font-family='"Liberation Serif", serif' fill="#000" >6.8</text>
<line x1="25.20" y1="226.09" x2="26.70" y2="226.09" stroke="#a0a0a0" stroke-width="0.6" />
<text x="24.80" y="229.39" font-size="7.9" text-anchor="end" font-weight="bold" font-style="normal" font-family='"Liberation Serif", serif' fill="#000" >6.7</text>
<line x1="25.20" y1="235.03" x2="26.70" y2="235.03" stroke="#a0a0a0" stroke-width="0.6" />
<text x="24.80" y="238.33" font-size="7.9" text-anchor="end" font-weight="bold" font-style="normal" font-family='"Liberation Serif", serif' fill="#000" >6.6</text>
<line x1="25.20" y1="243.96" x2="26.70" y2="243.96" stroke="#a0a0a0" stroke-width="0.6" />
<text x="24.80" y="247.26" font-size="7.9" text-anchor="end" font-weight="bold" font-style="normal" font-family='"Liberation Serif", serif' fill="#000" >6.5</text>
<line x1="25.20" y1="252.90" x2="26.70" y2="252.90" stroke="#a0a0a0" stroke-width="0.6" />
<text x="24.80" y="256.20" font-size="7.9" text-anchor="end" font-weight="bold" font-style="normal" font-family='"Liberation Serif", serif' fill="#000" >6.4</text>
<line x1="26.70" y1="252.90" x2="157.90" y2="252.90" stroke="#a0a0a0" stroke-width="1.0" />
<line x1="31.62" y1="252.90" x2="31.62" y2="254.20" stroke="#a0a0a0" stroke-width="0.5" />
<text x="31.62" y="262.90" font-size="7.9" text-anchor="middle" font-weight="bold" font-style="normal" font-family='"Liberation Serif", serif' fill="#000" >-20</text>
<line x1="42.06" y1="252.90" x2="42.06" y2="254.20" stroke="#a0a0a0" stroke-width="0.5" />
<text x="42.06" y="262.90" font-size="7.9" text-anchor="middle" font-weight="bold" font-style="normal" font-family='"Liberation Serif", serif' fill="#000" >-10</text>
<line x1="52.50" y1="252.90" x2="52.50" y2="254.20" stroke="#a0a0a0" stroke-width="0.5" />
<text x="52.50" y="262.90" font-size="7.9" text-anchor="middle" font-weight="bold" font-style="normal" font-family='"Liberation Serif", serif' fill="#000" >0</text>
<line x1="62.94" y1="252.90" x2="62.94" y2="254.20" stroke="#a0a0a0" stroke-width="0.5" />
<text x="62.94" y="262.90" font-size="7.9" text-anchor="middle" font-weight="bold" font-style="normal" font-family='"Liberation Serif", serif' fill="#000" >10</text>
<line x1="73.38" y1="252.90" x2="73.38" y2="254.20" stroke="#a0a0a0" stroke-width="0.5" />
<text x="73.38" y="262.90" font-size="7.9" text-anchor="middle" font-weight="bold" font-style="normal" font-family='"Liberation Serif", serif' fill="#000" >20</text>
<line x1="83.82" y1="252.90" x2="83.82" y2="254.20" stroke="#a0a0a0" stroke-width="0.5" />
<text x="83.82" y="262.90" font-size="7.9" text-anchor="middle" font-weight="bold" font-style="normal" font-family='"Liberation Serif", serif' fill="#000" >30</text>
<line x1="94.26" y1="252.90" x2="94.26" y2="254.20" stroke="#a0a0a0" stroke-width="0.5" />
<text x="94.26" y="262.90" font-size="7.9" text-anchor="middle" font-weight="bold" font-style="normal" font-family='"Liberation Serif", serif' fill="#000" >40</text>
<line x1="104.70" y1="252.90" x2="104.70" y2="254.20" stroke="#a0a0a0" stroke-width="0.5" />
<text x="104.70" y="262.90" font-size="7.9" text-anchor="middle" font-weight="bold" font-style="normal" font-family='"Liberation Serif", serif' fill="#000" >50</text>
<line x1="115.14" y1="252.90" x2="115.14" y2="254.20" stroke="#a0a0a0" stroke-width="0.5" />
<text x="115.14" y="262.90" font-size="7.9" text-anchor="middle" font-weight="bold" font-style="normal" font-family='"Liberation Serif", serif' fill="#000" >60</text>
<line x1="125.58" y1="252.90" x2="125.58" y2="254.20" stroke="#a0a0a0" stroke-width="0.5" />
<text x="125.58" y="262.90" font-size="7.9" text-anchor="middle" font-weight="bold" font-style="normal" font-family='"Liberation Serif", serif' fill="#000" >70</text>
<line x1="136.02" y1="252.90" x2="136.02" y2="254.20" stroke="#a0a0a0" stroke-width="0.5" />
<text x="136.02" y="262.90" font-size="7.9" text-anchor="middle" font-weight="bold" font-style="normal" font-family='"Liberation Serif", serif' fill="#000" >80</text>
<line x1="146.46" y1="252.90" x2="146.46" y2="254.20" stroke="#a0a0a0" stroke-width="0.5" />
<text x="146.46" y="262.90" font-size="7.9" text-anchor="middle" font-weight="bold" font-style="normal" font-family='"Liberation Serif", serif' fill="#000" >90</text>
<line x1="156.90" y1="252.90" x2="156.90" y2="254.20" stroke="#a0a0a0" stroke-width="0.5" />
<text x="156.90" y="262.90" font-size="7.9" text-anchor="middle" font-weight="bold" font-style="normal" font-family='"Liberation Serif", serif' fill="#000" >100</text>
<text x="92.00" y="273.90" font-size="9.5" text-anchor="middle" font-weight="bold" font-style="normal" font-family='"Liberation Serif", serif' fill="#000" >Time (min)</text>
<text transform="translate(9.00,213.30) rotate(-90)" font-size="8.8" font-weight="bold" font-family='"Liberation Serif", serif' text-anchor="middle" letter-spacing="0.5">pH<tspan font-size="6" dx="1.0" dy="1.2">i</tspan></text>
<line x1="27.00" y1="194.60" x2="160.00" y2="194.60" stroke="#222" stroke-width="0.8" stroke-dasharray="0.9,0.6" />
<text x="31.50" y="168.60" font-size="6.3" text-anchor="start" font-weight="bold" font-style="normal" font-family='"Liberation Serif", serif' fill="#000" >Pre bafilomycin</text>
<text x="42.90" y="176.20" font-size="6.3" text-anchor="start" font-weight="bold" font-style="normal" font-family='"Liberation Serif", serif' fill="#000" >Post bafilomycin</text>
<text x="53.40" y="183.90" font-size="6.3" text-anchor="start" font-weight="bold" font-style="italic" font-family='"Liberation Serif", serif' fill="#000" >E.  coli</text>
<line x1="32.40" y1="169.80" x2="32.40" y2="186.50" stroke="#222" stroke-width="0.9" />
<path d="M31.00,186.00 L33.80,186.00 L32.40,189.00 Z" fill="#111"/>
<line x1="50.80" y1="176.80" x2="50.80" y2="185.50" stroke="#222" stroke-width="0.9" />
<path d="M49.40,185.00 L52.20,185.00 L50.80,188.00 Z" fill="#111"/>
<line x1="53.50" y1="183.50" x2="53.50" y2="192.90" stroke="#222" stroke-width="0.9" />
<path d="M52.10,192.40 L54.90,192.40 L53.50,195.40 Z" fill="#111"/>
<polyline points="32.30,195.40 51.90,194.90 55.30,209.70 58.00,213.30 63.40,218.70 73.80,219.20 94.90,219.70 115.80,210.30 146.80,195.90" fill="none" stroke="#777" stroke-width="0.8" stroke-dasharray="2,1.3"/>
<polyline points="32.30,193.40 51.00,192.90 55.30,202.50 58.00,205.20 63.40,209.70 73.60,216.60 94.90,215.90 115.80,204.80 146.80,200.80" fill="none" stroke="#999" stroke-width="0.9"/>
<line x1="55.30" y1="199.00" x2="55.30" y2="206.00" stroke="#777" stroke-width="0.6" />
<line x1="54.10" y1="199.00" x2="56.50" y2="199.00" stroke="#777" stroke-width="0.6" />
<line x1="54.10" y1="206.00" x2="56.50" y2="206.00" stroke="#777" stroke-width="0.6" />
<line x1="58.00" y1="202.00" x2="58.00" y2="208.50" stroke="#777" stroke-width="0.6" />
<line x1="56.80" y1="202.00" x2="59.20" y2="202.00" stroke="#777" stroke-width="0.6" />
<line x1="56.80" y1="208.50" x2="59.20" y2="208.50" stroke="#777" stroke-width="0.6" />
<line x1="63.40" y1="206.00" x2="63.40" y2="213.00" stroke="#777" stroke-width="0.6" />
<line x1="62.20" y1="206.00" x2="64.60" y2="206.00" stroke="#777" stroke-width="0.6" />
<line x1="62.20" y1="213.00" x2="64.60" y2="213.00" stroke="#777" stroke-width="0.6" />
<line x1="73.80" y1="214.00" x2="73.80" y2="220.00" stroke="#777" stroke-width="0.6" />
<line x1="72.60" y1="214.00" x2="75.00" y2="214.00" stroke="#777" stroke-width="0.6" />
<line x1="72.60" y1="220.00" x2="75.00" y2="220.00" stroke="#777" stroke-width="0.6" />
<line x1="94.90" y1="214.00" x2="94.90" y2="220.00" stroke="#777" stroke-width="0.6" />
<line x1="93.70" y1="214.00" x2="96.10" y2="214.00" stroke="#777" stroke-width="0.6" />
<line x1="93.70" y1="220.00" x2="96.10" y2="220.00" stroke="#777" stroke-width="0.6" />
<line x1="116.00" y1="201.50" x2="116.00" y2="208.00" stroke="#777" stroke-width="0.6" />
<line x1="114.80" y1="201.50" x2="117.20" y2="201.50" stroke="#777" stroke-width="0.6" />
<line x1="114.80" y1="208.00" x2="117.20" y2="208.00" stroke="#777" stroke-width="0.6" />
<line x1="146.80" y1="196.00" x2="146.80" y2="206.00" stroke="#777" stroke-width="0.6" />
<line x1="145.60" y1="196.00" x2="148.00" y2="196.00" stroke="#777" stroke-width="0.6" />
<line x1="145.60" y1="206.00" x2="148.00" y2="206.00" stroke="#777" stroke-width="0.6" />
<line x1="55.30" y1="206.00" x2="55.30" y2="213.00" stroke="#777" stroke-width="0.6" />
<line x1="54.10" y1="206.00" x2="56.50" y2="206.00" stroke="#777" stroke-width="0.6" />
<line x1="54.10" y1="213.00" x2="56.50" y2="213.00" stroke="#777" stroke-width="0.6" />
<line x1="58.00" y1="210.00" x2="58.00" y2="217.00" stroke="#777" stroke-width="0.6" />
<line x1="56.80" y1="210.00" x2="59.20" y2="210.00" stroke="#777" stroke-width="0.6" />
<line x1="56.80" y1="217.00" x2="59.20" y2="217.00" stroke="#777" stroke-width="0.6" />
<line x1="63.40" y1="215.00" x2="63.40" y2="222.00" stroke="#777" stroke-width="0.6" />
<line x1="62.20" y1="215.00" x2="64.60" y2="215.00" stroke="#777" stroke-width="0.6" />
<line x1="62.20" y1="222.00" x2="64.60" y2="222.00" stroke="#777" stroke-width="0.6" />
<line x1="73.80" y1="216.00" x2="73.80" y2="222.50" stroke="#777" stroke-width="0.6" />
<line x1="72.60" y1="216.00" x2="75.00" y2="216.00" stroke="#777" stroke-width="0.6" />
<line x1="72.60" y1="222.50" x2="75.00" y2="222.50" stroke="#777" stroke-width="0.6" />
<line x1="94.90" y1="216.50" x2="94.90" y2="223.00" stroke="#777" stroke-width="0.6" />
<line x1="93.70" y1="216.50" x2="96.10" y2="216.50" stroke="#777" stroke-width="0.6" />
<line x1="93.70" y1="223.00" x2="96.10" y2="223.00" stroke="#777" stroke-width="0.6" />
<line x1="116.00" y1="206.50" x2="116.00" y2="213.00" stroke="#777" stroke-width="0.6" />
<line x1="114.80" y1="206.50" x2="117.20" y2="206.50" stroke="#777" stroke-width="0.6" />
<line x1="114.80" y1="213.00" x2="117.20" y2="213.00" stroke="#777" stroke-width="0.6" />
<line x1="146.80" y1="192.00" x2="146.80" y2="200.00" stroke="#777" stroke-width="0.6" />
<line x1="145.60" y1="192.00" x2="148.00" y2="192.00" stroke="#777" stroke-width="0.6" />
<line x1="145.60" y1="200.00" x2="148.00" y2="200.00" stroke="#777" stroke-width="0.6" />
<circle cx="32.30" cy="195.40" r="1.8" fill="#000"/>
<circle cx="51.90" cy="194.90" r="1.8" fill="#000"/>
<circle cx="55.30" cy="209.70" r="1.8" fill="#000"/>
<circle cx="58.00" cy="213.30" r="1.8" fill="#000"/>
<circle cx="63.40" cy="218.70" r="1.8" fill="#000"/>
<circle cx="73.80" cy="219.20" r="1.8" fill="#000"/>
<circle cx="94.90" cy="219.70" r="1.8" fill="#000"/>
<circle cx="115.80" cy="210.30" r="1.8" fill="#000"/>
<circle cx="146.80" cy="195.90" r="1.8" fill="#000"/>
<circle cx="32.30" cy="193.40" r="1.5" fill="#fff" stroke="#333" stroke-width="0.7"/>
<circle cx="51.00" cy="192.90" r="1.5" fill="#fff" stroke="#333" stroke-width="0.7"/>
<rect x="53.80" y="201.00" width="3.0" height="3.0" fill="#fff" stroke="#333" stroke-width="0.7"/>
<rect x="56.50" y="203.70" width="3.0" height="3.0" fill="#fff" stroke="#333" stroke-width="0.7"/>
<rect x="61.90" y="208.20" width="3.0" height="3.0" fill="#fff" stroke="#333" stroke-width="0.7"/>
<circle cx="73.60" cy="216.60" r="1.5" fill="#fff" stroke="#333" stroke-width="0.7"/>
<circle cx="94.90" cy="215.90" r="1.5" fill="#fff" stroke="#333" stroke-width="0.7"/>
<circle cx="115.80" cy="204.80" r="1.5" fill="#fff" stroke="#333" stroke-width="0.7"/>
<circle cx="146.80" cy="200.80" r="1.5" fill="#fff" stroke="#333" stroke-width="0.7"/>
<circle cx="55.30" cy="221.40" r="1.2" fill="#111"/>
<circle cx="61.20" cy="225.30" r="1.2" fill="#111"/>
<circle cx="113.10" cy="218.20" r="1.2" fill="#111"/>
<line x1="91.00" y1="167.90" x2="96.00" y2="167.90" stroke="#777" stroke-width="0.6" />
<circle cx="96.00" cy="167.90" r="1.5" fill="#fff" stroke="#333" stroke-width="0.7"/>
<text x="100.90" y="170.00" font-size="6.4" text-anchor="start" font-weight="bold" font-style="italic" font-family='"Liberation Serif", serif' fill="#000" >E.  coli high density</text>
<line x1="91.00" y1="177.30" x2="96.00" y2="177.30" stroke="#777" stroke-width="0.6" stroke-dasharray="1,1" />
<circle cx="95.70" cy="177.30" r="1.6" fill="#000"/>
<text x="100.10" y="179.50" font-size="6.4" text-anchor="start" font-weight="bold" font-style="italic" font-family='"Liberation Serif", serif' fill="#000" >E.  coli high density</text>
<text x="101.60" y="186.70" font-size="6.4" text-anchor="start" font-weight="bold" font-style="italic" font-family='"Liberation Serif", serif' fill="#000" >+ bafilomycin</text>
<text x="175.60" y="160.70" font-size="11.5" text-anchor="start" font-weight="bold" font-style="normal" font-family='"Liberation Sans", sans-serif' fill="#000" >D</text>
<line x1="201.20" y1="181.50" x2="201.20" y2="253.40" stroke="#a0a0a0" stroke-width="1.0" />
<line x1="199.70" y1="182.00" x2="201.20" y2="182.00" stroke="#a0a0a0" stroke-width="0.6" />
<text x="199.30" y="185.30" font-size="7.9" text-anchor="end" font-weight="bold" font-style="normal" font-family='"Liberation Serif", serif' fill="#000" >7.2</text>
<line x1="199.70" y1="190.93" x2="201.20" y2="190.93" stroke="#a0a0a0" stroke-width="0.6" />
<text x="199.30" y="194.23" font-size="7.9" text-anchor="end" font-weight="bold" font-style="normal" font-family='"Liberation Serif", serif' fill="#000" >7.1</text>
<line x1="199.70" y1="199.85" x2="201.20" y2="199.85" stroke="#a0a0a0" stroke-width="0.6" />
<text x="199.30" y="203.15" font-size="7.9" text-anchor="end" font-weight="bold" font-style="normal" font-family='"Liberation Serif", serif' fill="#000" >7.0</text>
<line x1="199.70" y1="208.78" x2="201.20" y2="208.78" stroke="#a0a0a0" stroke-width="0.6" />
<text x="199.30" y="212.08" font-size="7.9" text-anchor="end" font-weight="bold" font-style="normal" font-family='"Liberation Serif", serif' fill="#000" >6.9</text>
<line x1="199.70" y1="217.70" x2="201.20" y2="217.70" stroke="#a0a0a0" stroke-width="0.6" />
<text x="199.30" y="221.00" font-size="7.9" text-anchor="end" font-weight="bold" font-style="normal" font-family='"Liberation Serif", serif' fill="#000" >6.8</text>
<line x1="199.70" y1="226.62" x2="201.20" y2="226.62" stroke="#a0a0a0" stroke-width="0.6" />
<text x="199.30" y="229.93" font-size="7.9" text-anchor="end" font-weight="bold" font-style="normal" font-family='"Liberation Serif", serif' fill="#000" >6.7</text>
<line x1="199.70" y1="235.55" x2="201.20" y2="235.55" stroke="#a0a0a0" stroke-width="0.6" />
<text x="199.30" y="238.85" font-size="7.9" text-anchor="end" font-weight="bold" font-style="normal" font-family='"Liberation Serif", serif' fill="#000" >6.6</text>
<line x1="199.70" y1="244.48" x2="201.20" y2="244.48" stroke="#a0a0a0" stroke-width="0.6" />
<text x="199.30" y="247.78" font-size="7.9" text-anchor="end" font-weight="bold" font-style="normal" font-family='"Liberation Serif", serif' fill="#000" >6.5</text>
<line x1="199.70" y1="253.40" x2="201.20" y2="253.40" stroke="#a0a0a0" stroke-width="0.6" />
<text x="199.30" y="256.70" font-size="7.9" text-anchor="end" font-weight="bold" font-style="normal" font-family='"Liberation Serif", serif' fill="#000" >6.4</text>
<line x1="201.20" y1="253.40" x2="332.60" y2="253.40" stroke="#a0a0a0" stroke-width="1.0" />
<line x1="206.74" y1="253.40" x2="206.74" y2="254.70" stroke="#a0a0a0" stroke-width="0.5" />
<text x="206.74" y="262.90" font-size="7.9" text-anchor="middle" font-weight="bold" font-style="normal" font-family='"Liberation Serif", serif' fill="#000" >-20</text>
<line x1="217.17" y1="253.40" x2="217.17" y2="254.70" stroke="#a0a0a0" stroke-width="0.5" />
<text x="217.17" y="262.90" font-size="7.9" text-anchor="middle" font-weight="bold" font-style="normal" font-family='"Liberation Serif", serif' fill="#000" >-10</text>
<line x1="227.60" y1="253.40" x2="227.60" y2="254.70" stroke="#a0a0a0" stroke-width="0.5" />
<text x="227.60" y="262.90" font-size="7.9" text-anchor="middle" font-weight="bold" font-style="normal" font-family='"Liberation Serif", serif' fill="#000" >0</text>
<line x1="238.03" y1="253.40" x2="238.03" y2="254.70" stroke="#a0a0a0" stroke-width="0.5" />
<text x="238.03" y="262.90" font-size="7.9" text-anchor="middle" font-weight="bold" font-style="normal" font-family='"Liberation Serif", serif' fill="#000" >10</text>
<line x1="248.46" y1="253.40" x2="248.46" y2="254.70" stroke="#a0a0a0" stroke-width="0.5" />
<text x="248.46" y="262.90" font-size="7.9" text-anchor="middle" font-weight="bold" font-style="normal" font-family='"Liberation Serif", serif' fill="#000" >20</text>
<line x1="258.89" y1="253.40" x2="258.89" y2="254.70" stroke="#a0a0a0" stroke-width="0.5" />
<text x="258.89" y="262.90" font-size="7.9" text-anchor="middle" font-weight="bold" font-style="normal" font-family='"Liberation Serif", serif' fill="#000" >30</text>
<line x1="269.32" y1="253.40" x2="269.32" y2="254.70" stroke="#a0a0a0" stroke-width="0.5" />
<text x="269.32" y="262.90" font-size="7.9" text-anchor="middle" font-weight="bold" font-style="normal" font-family='"Liberation Serif", serif' fill="#000" >40</text>
<line x1="279.75" y1="253.40" x2="279.75" y2="254.70" stroke="#a0a0a0" stroke-width="0.5" />
<text x="279.75" y="262.90" font-size="7.9" text-anchor="middle" font-weight="bold" font-style="normal" font-family='"Liberation Serif", serif' fill="#000" >50</text>
<line x1="290.18" y1="253.40" x2="290.18" y2="254.70" stroke="#a0a0a0" stroke-width="0.5" />
<text x="290.18" y="262.90" font-size="7.9" text-anchor="middle" font-weight="bold" font-style="normal" font-family='"Liberation Serif", serif' fill="#000" >60</text>
<line x1="300.61" y1="253.40" x2="300.61" y2="254.70" stroke="#a0a0a0" stroke-width="0.5" />
<text x="300.61" y="262.90" font-size="7.9" text-anchor="middle" font-weight="bold" font-style="normal" font-family='"Liberation Serif", serif' fill="#000" >70</text>
<line x1="311.04" y1="253.40" x2="311.04" y2="254.70" stroke="#a0a0a0" stroke-width="0.5" />
<text x="311.04" y="262.90" font-size="7.9" text-anchor="middle" font-weight="bold" font-style="normal" font-family='"Liberation Serif", serif' fill="#000" >80</text>
<line x1="321.47" y1="253.40" x2="321.47" y2="254.70" stroke="#a0a0a0" stroke-width="0.5" />
<text x="321.47" y="262.90" font-size="7.9" text-anchor="middle" font-weight="bold" font-style="normal" font-family='"Liberation Serif", serif' fill="#000" >90</text>
<line x1="331.90" y1="253.40" x2="331.90" y2="254.70" stroke="#a0a0a0" stroke-width="0.5" />
<text x="331.90" y="262.90" font-size="7.9" text-anchor="middle" font-weight="bold" font-style="normal" font-family='"Liberation Serif", serif' fill="#000" >100</text>
<text x="266.80" y="275.40" font-size="9.5" text-anchor="middle" font-weight="bold" font-style="normal" font-family='"Liberation Serif", serif' fill="#000" >Time (min)</text>
<text transform="translate(183.30,214.00) rotate(-90)" font-size="8.8" font-weight="bold" font-family='"Liberation Serif", serif' text-anchor="middle" letter-spacing="0.5">pH<tspan font-size="6" dx="1.0" dy="1.2">i</tspan></text>
<line x1="201.00" y1="181.90" x2="321.00" y2="181.90" stroke="#666" stroke-width="1.3" />
<line x1="207.00" y1="195.50" x2="226.00" y2="195.50" stroke="#222" stroke-width="0.75" stroke-dasharray="1,0.9" />
<text x="204.00" y="163.30" font-size="6.3" text-anchor="start" font-weight="bold" font-style="normal" font-family='"Liberation Serif", serif' fill="#000" >Pre amiloride+ bafilomycin+ZnCl<tspan font-size="4.6" dy="1.3">2</tspan></text>
<text x="214.90" y="176.40" font-size="6.3" text-anchor="start" font-weight="bold" font-style="normal" font-family='"Liberation Serif", serif' fill="#000" >Post inhibitors</text>
<text x="229.70" y="187.70" font-size="6.3" text-anchor="start" font-weight="bold" font-style="italic" font-family='"Liberation Serif", serif' fill="#000" >E.  coli</text>
<line x1="206.50" y1="164.50" x2="206.50" y2="186.30" stroke="#222" stroke-width="0.9" />
<path d="M205.10,185.80 L207.90,185.80 L206.50,188.80 Z" fill="#111"/>
<line x1="225.90" y1="177.50" x2="225.90" y2="186.30" stroke="#222" stroke-width="0.9" />
<path d="M224.50,185.80 L227.30,185.80 L225.90,188.80 Z" fill="#111"/>
<line x1="229.50" y1="188.20" x2="229.50" y2="194.30" stroke="#222" stroke-width="0.9" />
<path d="M228.10,193.80 L230.90,193.80 L229.50,196.80 Z" fill="#111"/>
<polyline points="206.50,195.60 225.90,196.80 230.20,217.80 232.80,238.70 238.30,246.30 248.40,249.30 268.60,241.70 289.80,220.90 321.10,211.30" fill="none" stroke="#777" stroke-width="0.8" stroke-dasharray="2,1.3"/>
<polyline points="206.50,193.60 225.90,192.60 230.20,203.10 232.80,207.70 237.80,212.20 249.20,217.30 268.60,217.30 290.00,205.00 321.90,201.20" fill="none" stroke="#999" stroke-width="0.9"/>
<line x1="230.20" y1="200.00" x2="230.20" y2="206.00" stroke="#777" stroke-width="0.6" />
<line x1="229.00" y1="200.00" x2="231.40" y2="200.00" stroke="#777" stroke-width="0.6" />
<line x1="229.00" y1="206.00" x2="231.40" y2="206.00" stroke="#777" stroke-width="0.6" />
<line x1="232.80" y1="204.50" x2="232.80" y2="211.00" stroke="#777" stroke-width="0.6" />
<line x1="231.60" y1="204.50" x2="234.00" y2="204.50" stroke="#777" stroke-width="0.6" />
<line x1="231.60" y1="211.00" x2="234.00" y2="211.00" stroke="#777" stroke-width="0.6" />
<line x1="237.80" y1="209.00" x2="237.80" y2="215.50" stroke="#777" stroke-width="0.6" />
<line x1="236.60" y1="209.00" x2="239.00" y2="209.00" stroke="#777" stroke-width="0.6" />
<line x1="236.60" y1="215.50" x2="239.00" y2="215.50" stroke="#777" stroke-width="0.6" />
<line x1="249.20" y1="214.50" x2="249.20" y2="220.00" stroke="#777" stroke-width="0.6" />
<line x1="248.00" y1="214.50" x2="250.40" y2="214.50" stroke="#777" stroke-width="0.6" />
<line x1="248.00" y1="220.00" x2="250.40" y2="220.00" stroke="#777" stroke-width="0.6" />
<line x1="268.60" y1="214.50" x2="268.60" y2="220.00" stroke="#777" stroke-width="0.6" />
<line x1="267.40" y1="214.50" x2="269.80" y2="214.50" stroke="#777" stroke-width="0.6" />
<line x1="267.40" y1="220.00" x2="269.80" y2="220.00" stroke="#777" stroke-width="0.6" />
<line x1="290.00" y1="202.50" x2="290.00" y2="207.50" stroke="#777" stroke-width="0.6" />
<line x1="288.80" y1="202.50" x2="291.20" y2="202.50" stroke="#777" stroke-width="0.6" />
<line x1="288.80" y1="207.50" x2="291.20" y2="207.50" stroke="#777" stroke-width="0.6" />
<line x1="321.90" y1="197.50" x2="321.90" y2="205.00" stroke="#777" stroke-width="0.6" />
<line x1="320.70" y1="197.50" x2="323.10" y2="197.50" stroke="#777" stroke-width="0.6" />
<line x1="320.70" y1="205.00" x2="323.10" y2="205.00" stroke="#777" stroke-width="0.6" />
<line x1="230.20" y1="213.00" x2="230.20" y2="222.00" stroke="#777" stroke-width="0.6" />
<line x1="229.00" y1="213.00" x2="231.40" y2="213.00" stroke="#777" stroke-width="0.6" />
<line x1="229.00" y1="222.00" x2="231.40" y2="222.00" stroke="#777" stroke-width="0.6" />
<line x1="232.80" y1="234.00" x2="232.80" y2="243.00" stroke="#777" stroke-width="0.6" />
<line x1="231.60" y1="234.00" x2="234.00" y2="234.00" stroke="#777" stroke-width="0.6" />
<line x1="231.60" y1="243.00" x2="234.00" y2="243.00" stroke="#777" stroke-width="0.6" />
<line x1="238.30" y1="242.00" x2="238.30" y2="250.50" stroke="#777" stroke-width="0.6" />
<line x1="237.10" y1="242.00" x2="239.50" y2="242.00" stroke="#777" stroke-width="0.6" />
<line x1="237.10" y1="250.50" x2="239.50" y2="250.50" stroke="#777" stroke-width="0.6" />
<line x1="248.40" y1="245.50" x2="248.40" y2="253.00" stroke="#777" stroke-width="0.6" />
<line x1="247.20" y1="245.50" x2="249.60" y2="245.50" stroke="#777" stroke-width="0.6" />
<line x1="247.20" y1="253.00" x2="249.60" y2="253.00" stroke="#777" stroke-width="0.6" />
<line x1="268.60" y1="236.00" x2="268.60" y2="247.00" stroke="#777" stroke-width="0.6" />
<line x1="267.40" y1="236.00" x2="269.80" y2="236.00" stroke="#777" stroke-width="0.6" />
<line x1="267.40" y1="247.00" x2="269.80" y2="247.00" stroke="#777" stroke-width="0.6" />
<line x1="289.80" y1="216.00" x2="289.80" y2="226.00" stroke="#777" stroke-width="0.6" />
<line x1="288.60" y1="216.00" x2="291.00" y2="216.00" stroke="#777" stroke-width="0.6" />
<line x1="288.60" y1="226.00" x2="291.00" y2="226.00" stroke="#777" stroke-width="0.6" />
<line x1="321.10" y1="207.00" x2="321.10" y2="216.00" stroke="#777" stroke-width="0.6" />
<line x1="319.90" y1="207.00" x2="322.30" y2="207.00" stroke="#777" stroke-width="0.6" />
<line x1="319.90" y1="216.00" x2="322.30" y2="216.00" stroke="#777" stroke-width="0.6" />
<circle cx="206.50" cy="195.60" r="1.8" fill="#000"/>
<circle cx="225.90" cy="196.80" r="1.8" fill="#000"/>
<circle cx="230.20" cy="217.80" r="1.8" fill="#000"/>
<circle cx="232.80" cy="238.70" r="1.8" fill="#000"/>
<circle cx="238.30" cy="246.30" r="1.8" fill="#000"/>
<circle cx="248.40" cy="249.30" r="1.8" fill="#000"/>
<circle cx="268.60" cy="241.70" r="1.8" fill="#000"/>
<circle cx="289.80" cy="220.90" r="1.8" fill="#000"/>
<circle cx="321.10" cy="211.30" r="1.8" fill="#000"/>
<circle cx="206.50" cy="193.60" r="1.5" fill="#fff" stroke="#333" stroke-width="0.7"/>
<circle cx="225.90" cy="192.60" r="1.5" fill="#fff" stroke="#333" stroke-width="0.7"/>
<rect x="228.70" y="201.60" width="3.0" height="3.0" fill="#fff" stroke="#333" stroke-width="0.7"/>
<rect x="231.30" y="206.20" width="3.0" height="3.0" fill="#fff" stroke="#333" stroke-width="0.7"/>
<rect x="236.30" y="210.70" width="3.0" height="3.0" fill="#fff" stroke="#333" stroke-width="0.7"/>
<circle cx="249.20" cy="217.30" r="1.5" fill="#fff" stroke="#333" stroke-width="0.7"/>
<circle cx="268.60" cy="217.30" r="1.5" fill="#fff" stroke="#333" stroke-width="0.7"/>
<circle cx="290.00" cy="205.00" r="1.5" fill="#fff" stroke="#333" stroke-width="0.7"/>
<circle cx="321.90" cy="201.20" r="1.5" fill="#fff" stroke="#333" stroke-width="0.7"/>
<circle cx="226.50" cy="227.60" r="1.2" fill="#111"/>
<circle cx="229.90" cy="245.30" r="1.2" fill="#111"/>
<circle cx="235.50" cy="251.00" r="1.2" fill="#111"/>
<circle cx="245.50" cy="252.50" r="1.2" fill="#111"/>
<circle cx="266.00" cy="249.80" r="1.2" fill="#111"/>
<circle cx="286.90" cy="228.30" r="1.2" fill="#111"/>
<circle cx="318.80" cy="217.90" r="1.2" fill="#111"/>
<line x1="258.50" y1="167.80" x2="263.00" y2="167.80" stroke="#777" stroke-width="0.6" />
<circle cx="262.80" cy="167.80" r="1.5" fill="#fff" stroke="#333" stroke-width="0.7"/>
<text x="267.30" y="169.90" font-size="6.4" text-anchor="start" font-weight="bold" font-style="italic" font-family='"Liberation Serif", serif' fill="#000" >E.  coli high density</text>
<line x1="258.50" y1="176.80" x2="263.00" y2="176.80" stroke="#777" stroke-width="0.6" stroke-dasharray="1,1" />
<circle cx="262.80" cy="176.80" r="1.6" fill="#000"/>
<text x="267.30" y="178.90" font-size="6.4" text-anchor="start" font-weight="bold" font-style="italic" font-family='"Liberation Serif", serif' fill="#000" >E.  coli  high density</text>
<text x="269.00" y="186.10" font-size="6.4" text-anchor="start" font-weight="bold" font-style="italic" font-family='"Liberation Serif", serif' fill="#000" >+ amiloride + bafilomycin</text>
<text x="269.00" y="192.80" font-size="6.4" text-anchor="start" font-weight="bold" font-style="italic" font-family='"Liberation Serif", serif' fill="#000" >+ ZnCl<tspan font-size="4.6" dy="1.3">2</tspan></text>
</svg>
</body></html>
